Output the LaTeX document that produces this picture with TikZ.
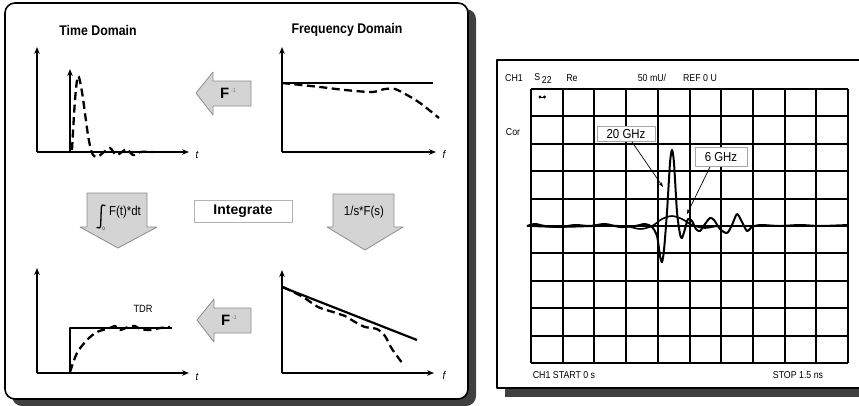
\documentclass[tikz,border=0pt]{standalone}
\usepackage{fontspec}
\setmainfont[FakeStretch=0.88]{Liberation Sans}
\newfontfamily\widefont{Liberation Sans}
\usetikzlibrary{arrows.meta}
\begin{document}
\begin{tikzpicture}[x=1pt,y=-1pt,line join=round,
 ax/.style={line width=1.4pt,-{Stealth[length=7pt,width=5.5pt]}},
 sol/.style={line width=2.2pt},
 dsh/.style={line width=2.3pt,dash pattern=on 8pt off 4.5pt},
 blk/.style={fill=black!17,draw=black!45,line width=0.8pt},
 ttl/.style={font=\bfseries\fontsize{14}{15}\selectfont},
 lbl/.style={font=\itshape\fontsize{11}{12}\selectfont},
 blbl/.style={font=\fontsize{13}{14}\selectfont},
 scr/.style={font=\fontsize{10}{11}\selectfont,inner sep=0pt},
 grd/.style={line width=1.6pt},
 tag/.style={draw=black!35,line width=0.8pt,fill=white,font=\fontsize{13}{14}\selectfont,inner sep=1pt},
 ptr/.style={line width=0.7pt,-{Stealth[length=5pt,width=3.5pt]}},
 trc/.style={line width=2pt},
]
\clip (0,0) rectangle (859,405);
\fill[white] (0,0) rectangle (859,405);

% ---------------- left panel ----------------
\fill[black!75,rounded corners=10pt] (12,9) rectangle (476,406);
\draw[fill=white,line width=1.6pt,rounded corners=10pt] (5,3) rectangle (468,399);

\node[ttl] (tdt) at (98,30) {Time Domain};
\node[ttl] (fdt) at (347,30) {Frequency Domain};

% top-left: time domain impulse
\coordinate (o1) at (37,152);
\coordinate (y1) at (37,47);
\coordinate (x1) at (189,152);
\draw[ax] (o1) -- (y1);
\draw[ax] (o1) -- (x1);
\node[lbl] (t1) at (197,155) {t};
\coordinate (imp0) at (70,152);
\coordinate (imp1) at (70,69);
\draw[line width=2pt,-{Stealth[length=7pt,width=5.5pt]}] (imp0) -- (imp1);
\draw[dsh] plot[smooth,tension=0.5] coordinates {(72,150) (75,100) (78,76) (82,92) (88,135) (92,153) (97,157) (104,152) (110,148) (116,155) (122,152) (127,149) (133,155) (140,152) (153,152)};

% top-right: frequency domain
\coordinate (o2) at (282,152);
\coordinate (y2) at (282,47);
\coordinate (x2) at (436,152);
\draw[ax] (o2) -- (y2);
\draw[ax] (o2) -- (x2);
\node[lbl] (f1) at (444,155) {f};
\draw[sol] (282,83) -- (433,83);
\draw[dsh] plot[smooth,tension=0.5] coordinates {(282,83) (320,87) (345,90) (372,92) (385,89) (395,89) (407,95) (420,103) (439,118)};

% bottom-left: TDR step
\coordinate (o3) at (37,373);
\coordinate (y3) at (37,268);
\coordinate (x3) at (189,373);
\draw[ax] (o3) -- (y3);
\draw[ax] (o3) -- (x3);
\node[lbl] (t2) at (197,377) {t};
\draw[sol] (70,373) -- (70,328) -- (172,328);
\draw[dsh] plot[smooth,tension=0.5] coordinates {(70,372) (77,353) (87,340) (97,332) (110,328) (115,326) (120,330) (128,327) (135,326) (140,329) (150,330) (160,328) (170,327)};
\node[font=\fontsize{10.5}{12}\selectfont] (tdr) at (143,309) {TDR};

% bottom-right: 1/s spectrum
\coordinate (o4) at (282,373);
\coordinate (y4) at (282,270);
\coordinate (x4) at (434,373);
\draw[ax] (o4) -- (y4);
\draw[ax] (o4) -- (x4);
\node[lbl] (f2) at (444,376) {f};
\draw[sol] (282,287) -- (417,340);
\draw[dsh] plot[smooth,tension=0.4] coordinates {(283,287) (303,297) (318,307) (333,312) (345,316) (355,322) (365,327) (377,329) (385,336) (392,349) (403,364)};

% block arrows
\draw[blk] (196,93) -- (213,72) -- (213,81) -- (251,81) -- (251,106) -- (213,106) -- (213,115) -- cycle;
\node[inner sep=0] (fi1) at (228,93) {{\widefont\fontsize{15}{16}\selectfont\bfseries F}\,{\color{black!55}\fontsize{6}{6}\selectfont\raisebox{6pt}{-1}}};
\draw[blk] (197,320) -- (214,299) -- (214,308) -- (251,308) -- (251,333) -- (214,333) -- (214,342) -- cycle;
\node[inner sep=0] (fi2) at (229,320) {{\widefont\fontsize{15}{16}\selectfont\bfseries F}\,{\color{black!55}\fontsize{6}{6}\selectfont\raisebox{6pt}{-1}}};

\draw[blk] (87,193) -- (147,193) -- (147,227) -- (157,227) -- (118,248) -- (80,227) -- (87,227) -- cycle;
% integral sign
\draw[line width=1.3pt,line cap=round] (105,205.5) .. controls (103,204) and (101.5,205) .. (101.3,208) -- (100.7,225) .. controls (100.5,228) and (99,229) .. (97,227.5);
\node[inner sep=0,font=\fontsize{5}{5}\selectfont] (izero) at (103.5,229) {0};
\node[blbl,inner sep=0] (ftdt) at (125,212) {F(t)*dt};

\draw[blk] (333,194) -- (394,194) -- (394,227) -- (403,227) -- (365,250) -- (327,227) -- (333,227) -- cycle;
\node[blbl,inner sep=0] (sfs) at (364,212) {1/s*F(s)};

\node[draw=black!30,line width=0.8pt,minimum width=98pt,minimum height=22pt,inner sep=0,font=\widefont\bfseries\fontsize{14}{15}\selectfont] (int) at (243,211) {Integrate};

% ---------------- right panel ----------------
\fill[black!75] (505,68) rectangle (875,397);
\draw[fill=white,line width=1.3pt] (497,60) rectangle (870,388);

\foreach \gx in {531,563,594,626,658,690,721,753,785,816,848}
  \draw[grd] (\gx,89) -- (\gx,363);
\foreach \gy in {89,116,144,171,199,226,253,281,308,336,363}
  \draw[grd] (531,\gy) -- (848,\gy);

\node[scr] (ch1) at (514,78) {CH1};
\node[scr] (s22) at (543,79) {S\,\raisebox{-3pt}{22}};
\node[scr] (re) at (572,78) {Re};
\node[scr] (mu) at (652,78) {50 mU/};
\node[scr] (ref) at (700,78) {REF 0 U};
\node[scr] (cor) at (513,132) {Cor};
\node[scr] (start) at (564,375) {CH1 START 0 s};
\node[scr] (stop) at (798,375) {STOP 1.5 ns};

% small marker
\fill (540,97) circle (1.6pt);
\fill (544.5,97) circle (1.6pt);
\draw[line width=0.8pt] (540,97) -- (544.5,97);

% 6 GHz trace
\draw[trc,line width=1.6pt] plot[smooth,tension=0.5] coordinates {(527,226) (560,227) (600,226) (625,226) (640,229) (652,226) (662,219) (672,216) (682,219) (692,225) (705,228) (720,226) (760,226) (848,226)};
% 20 GHz trace
\draw[trc] plot[smooth,tension=0.45] coordinates {(527,226) (535,224) (545,226) (560,227) (575,225) (590,226) (605,224) (620,227) (635,226) (645,224) (652,227) (657,236) (660,256) (662,262) (664,250) (667,212) (670,163) (672,150) (674,163) (677,212) (680,234) (682,238) (685,229) (688,219) (692,221) (696,229) (700,231) (705,224) (710,218) (714,220) (720,229) (727,233) (732,225) (737,214) (742,222) (747,231) (752,227) (760,225) (780,226) (800,225) (820,226) (848,225)};

\node[tag,minimum width=58pt,minimum height=15pt] (g20) at (626,134) {20 GHz};
\node[tag,minimum width=52pt,minimum height=19pt] (g6) at (721,157) {6 GHz};
\coordinate (a20) at (663,187);
\coordinate (a6) at (687,214);
\draw[ptr] ([xshift=6pt]g20.south) -- (a20);
\draw[ptr] ([xshift=-11pt]g6.south) -- (a6);
\end{tikzpicture}
\end{document}
